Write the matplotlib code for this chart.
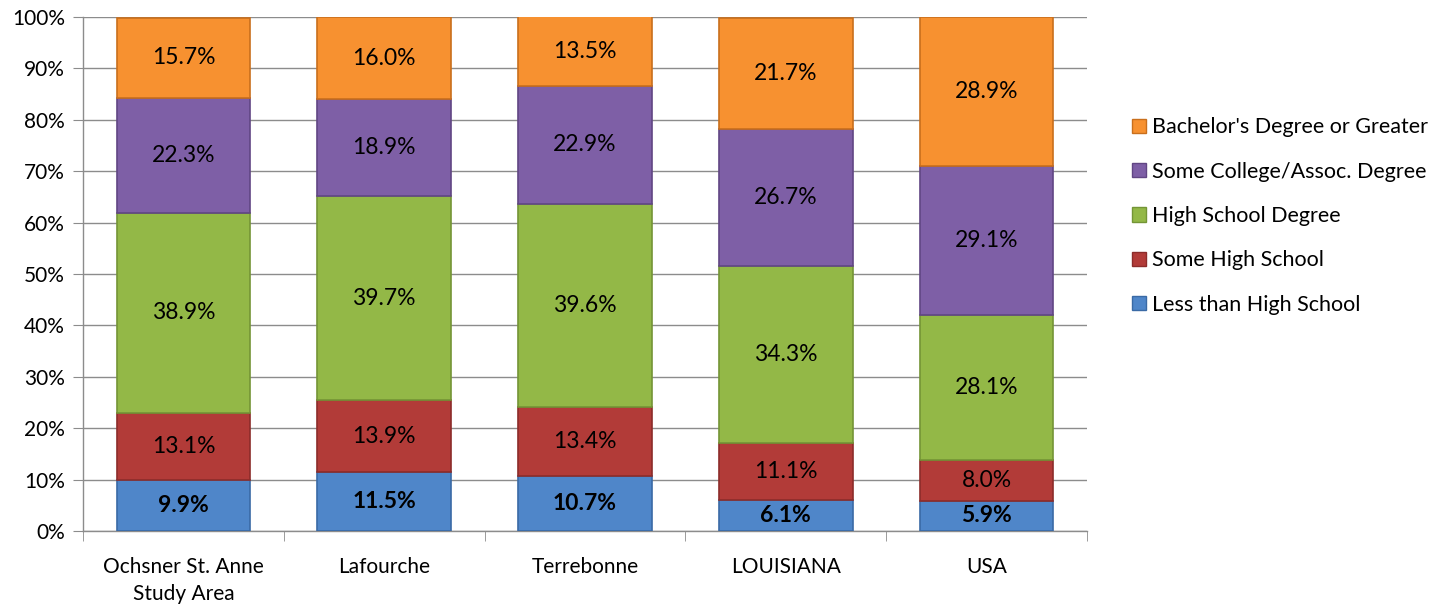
import matplotlib
matplotlib.use("Agg")
import matplotlib.pyplot as plt
from matplotlib.patches import Patch
import numpy as np

plt.rcParams['font.family'] = ['Lato', 'DejaVu Sans']

categories = ["Ochsner St. Anne\nStudy Area", "Lafourche", "Terrebonne", "LOUISIANA", "USA"]
series_names = ["Less than High School", "Some High School", "High School Degree",
                "Some College/Assoc. Degree", "Bachelor's Degree or Greater"]
less_hs = [9.9, 11.5, 10.7, 6.1, 5.9]
some_hs = [13.1, 13.9, 13.4, 11.1, 8.0]
hs_degree = [38.9, 39.7, 39.6, 34.3, 28.1]
some_college = [22.3, 18.9, 22.9, 26.7, 29.1]
bachelors = [15.7, 16.0, 13.5, 21.7, 28.9]

series = [less_hs, some_hs, hs_degree, some_college, bachelors]
colors = ["#4F86C9", "#B23B38", "#93B847", "#7E5FA6", "#F79130"]
edges = ["#3A6AA5", "#8C2C2A", "#749536", "#614684", "#C96F1C"]

fig = plt.figure(figsize=(14.5, 6.05), dpi=100)
ax = fig.add_axes([83/1450, 74/605, (1087-83)/1450, (531-17)/605])

x = np.arange(len(categories))
bottom = np.zeros(len(categories))
for i, (vals, c, ec, name) in enumerate(zip(series, colors, edges, series_names)):
    vals = np.array(vals)
    ax.bar(x, vals, 0.665, bottom=bottom, color=c, edgecolor=ec, linewidth=1.2,
           label=name, zorder=3)
    for xi, b, v in zip(x, bottom, vals):
        ax.text(xi, b + v / 2, f"{v:.1f}%", ha="center", va="center",
                fontsize=16.5, color="black", zorder=4,
                fontweight="bold" if i == 0 else "normal")
    bottom += vals

ax.set_xlim(-0.5, len(categories) - 0.5)
ax.set_ylim(0, 100)
ax.set_yticks(np.arange(0, 101, 10))
ax.set_yticklabels([f"{v}%" for v in range(0, 101, 10)], fontsize=15)
ax.yaxis.grid(True, color="#8C8C8C", linewidth=1, zorder=0)
ax.set_axisbelow(True)
ax.set_xticks(x)
ax.set_xticklabels(categories, fontsize=15, linespacing=1.4)
ax.set_xticks(np.arange(-0.5, len(categories), 1), minor=True)
ax.tick_params(axis="x", which="major", length=0, pad=19)
ax.tick_params(axis="x", which="minor", length=7, color="#8C8C8C")
ax.tick_params(axis="y", length=7, color="#8C8C8C", pad=6)
for s in ["top", "right"]:
    ax.spines[s].set_visible(False)
for s in ["left", "bottom"]:
    ax.spines[s].set_color("#8C8C8C")
    ax.spines[s].set_linewidth(1)

handles = [Patch(facecolor=c, edgecolor=ec) for c, ec in zip(colors, edges)][::-1]
labels = series_names[::-1]
fig.legend(handles, labels, loc="center left", bbox_to_anchor=(1113/1450, 1 - 216/605),
           frameon=False, fontsize=15.5, handlelength=0.65, handleheight=0.65,
           handletextpad=0.25, labelspacing=1.13)

fig.savefig("out.png", dpi=100)
